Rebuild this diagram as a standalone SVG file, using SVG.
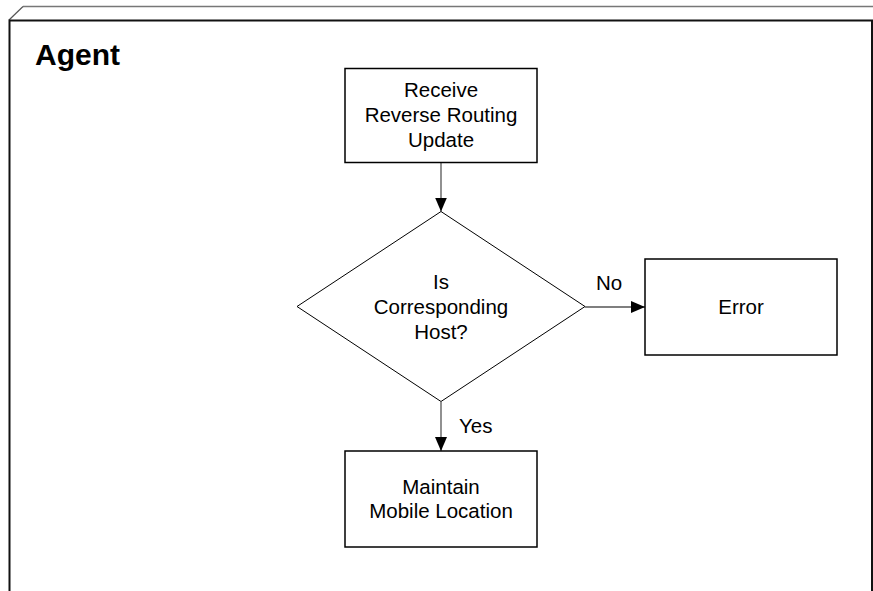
<svg xmlns="http://www.w3.org/2000/svg" width="873" height="591" viewBox="0 0 873 591">
<style>
  .box { fill: #fff; stroke: #000; stroke-width: 1.5; }
  .dia { fill: #fff; stroke: #000; stroke-width: 1; }
  .t { font-family: "Liberation Sans", Arial, sans-serif; font-size: 20.5px; fill: #000; text-anchor: middle; }
  .lbl { font-family: "Liberation Sans", Arial, sans-serif; font-size: 20.5px; fill: #000; }
  .conn { stroke: #555; stroke-width: 1.3; fill: none; }
</style>
<defs>
  <marker id="arr" markerWidth="14" markerHeight="12" refX="14" refY="6" orient="auto" markerUnits="userSpaceOnUse" viewBox="0 0 14 12">
    <path d="M0,0 L14,6 L0,12 Z" fill="#000"/>
  </marker>
</defs>
<rect width="873" height="591" fill="#fff"/>
<g id="frame">
  <line x1="23" y1="6.5" x2="873" y2="6.5" stroke="#777" stroke-width="1.3"/>
  <line x1="9" y1="20" x2="23" y2="6.5" stroke="#555" stroke-width="1.2"/>
  <path d="M9.5,600 L9.5,20.5 L872,20.5 L872,600" fill="none" stroke="#111" stroke-width="2"/>
  <text x="35" y="65" font-family="Liberation Sans, Arial, sans-serif" font-weight="bold" font-size="30px" fill="#000">Agent</text>
</g>
<g id="connectors">
  <line class="conn" x1="441" y1="163" x2="441" y2="211.5" marker-end="url(#arr)"/>
  <line class="conn" x1="585" y1="307" x2="645" y2="307" marker-end="url(#arr)"/>
  <line class="conn" x1="441" y1="402" x2="441" y2="451" marker-end="url(#arr)"/>
  <text class="lbl" x="596" y="290">No</text>
  <text class="lbl" x="459" y="432.5">Yes</text>
</g>
<g id="receive">
  <rect class="box" x="345" y="68.5" width="192" height="94"/>
  <text class="t" x="441" y="96.5">Receive</text>
  <text class="t" x="441" y="121.5">Reverse Routing</text>
  <text class="t" x="441" y="147">Update</text>
</g>
<g id="decision">
  <polygon class="dia" points="441,211.5 585,306.5 441,401.5 297,306.5"/>
  <text class="t" x="441" y="288.5">Is</text>
  <text class="t" x="441" y="313.5">Corresponding</text>
  <text class="t" x="441" y="338.5">Host?</text>
</g>
<g id="error">
  <rect class="box" x="645" y="259" width="192" height="96"/>
  <text class="t" x="741" y="314">Error</text>
</g>
<g id="maintain">
  <rect class="box" x="345" y="451" width="192" height="96"/>
  <text class="t" x="441" y="493.5">Maintain</text>
  <text class="t" x="441" y="517.5">Mobile Location</text>
</g>
</svg>
